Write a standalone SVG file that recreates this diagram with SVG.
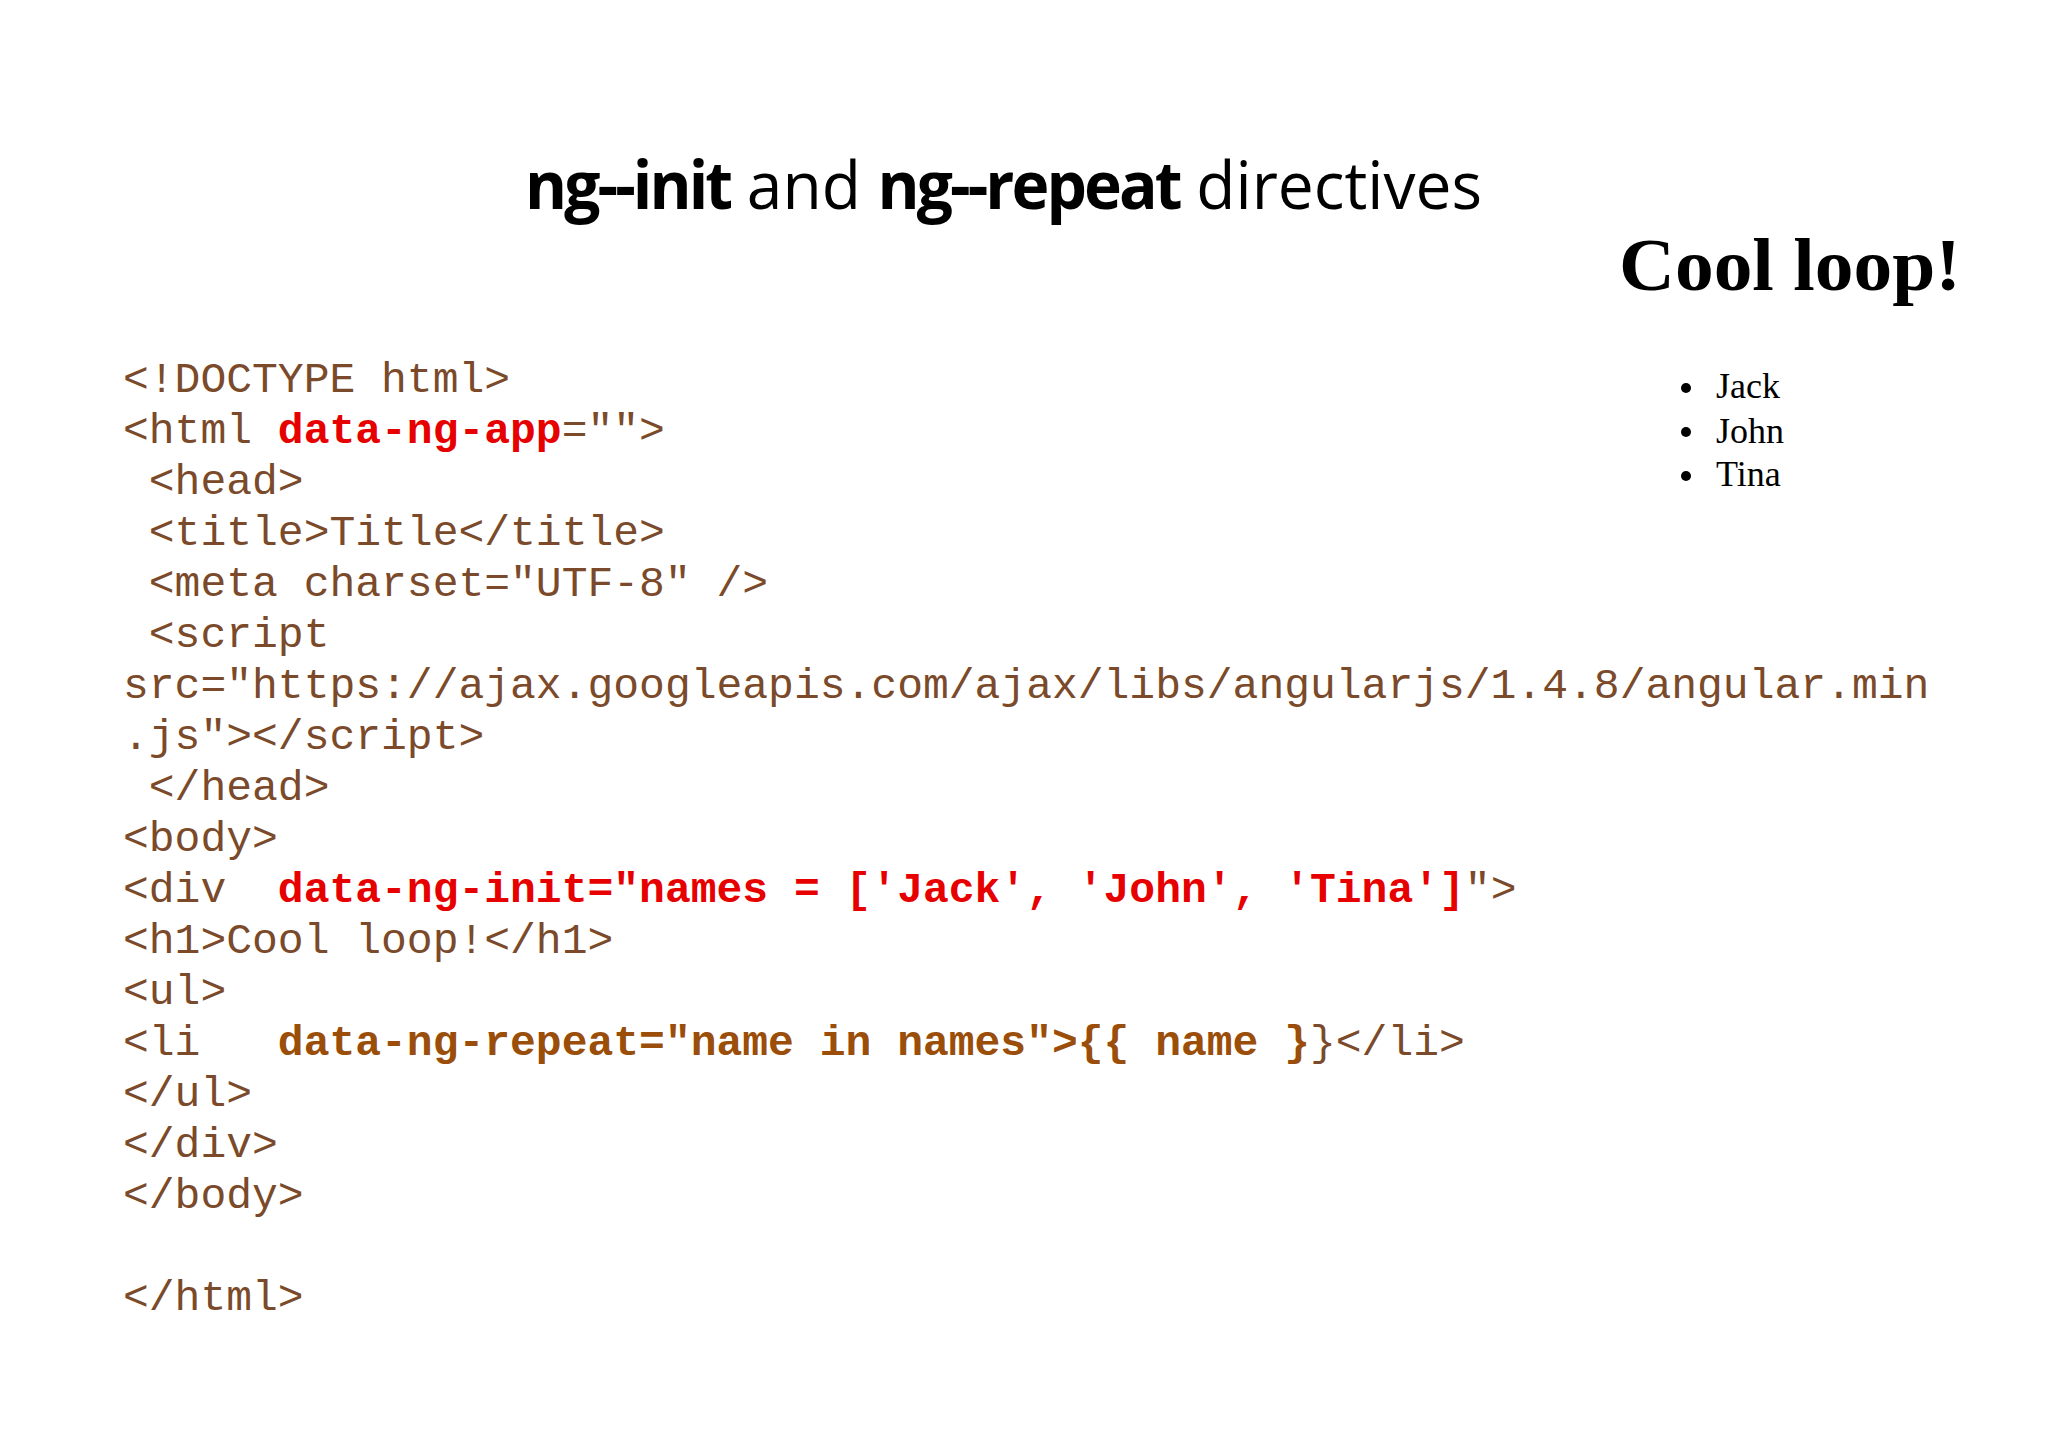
<svg xmlns="http://www.w3.org/2000/svg" width="2048" height="1447" viewBox="0 0 2048 1447">
<style>
.c{font-family:"Liberation Mono",monospace;font-size:43px;fill:#7a4a2a;white-space:pre}
.r{fill:#e60000;font-weight:bold}
.b{fill:#9a4e0a;font-weight:bold}
.t{font-family:"Open Sans","Liberation Sans",sans-serif;font-size:66px;fill:#000}
.s{font-family:"Liberation Serif",serif;fill:#000}
</style>
<rect width="2048" height="1447" fill="#fff"/>
<g id="title"><text class="t" x="525" y="209" textLength="957" lengthAdjust="spacingAndGlyphs"><tspan font-weight="bold" letter-spacing="-3">ng--init</tspan> and <tspan font-weight="bold" letter-spacing="-3">ng--repeat</tspan> directives</text></g>
<g id="output">
<text class="s" x="1619" y="290" font-size="73" font-weight="bold" textLength="342" lengthAdjust="spacingAndGlyphs">Cool loop!</text>
<g font-size="36">
<circle cx="1686" cy="388" r="5"/><circle cx="1686" cy="432" r="5"/><circle cx="1686" cy="476" r="5"/>
<text class="s" x="1716" y="398" font-size="36">Jack</text>
<text class="s" x="1716" y="443" font-size="36">John</text>
<text class="s" x="1716" y="486" font-size="36">Tina</text>
</g>
</g>
<g id="code" xml:space="preserve">
<text class="c" x="123" y="392">&lt;!DOCTYPE html&gt;</text>
<text class="c" x="123" y="443">&lt;html <tspan class="r">data-ng-app</tspan>=""&gt;</text>
<text class="c" x="123" y="494"> &lt;head&gt;</text>
<text class="c" x="123" y="545"> &lt;title&gt;Title&lt;/title&gt;</text>
<text class="c" x="123" y="596"> &lt;meta charset="UTF-8" /&gt;</text>
<text class="c" x="123" y="647"> &lt;script</text>
<text class="c" x="123" y="698">src="https://ajax.googleapis.com/ajax/libs/angularjs/1.4.8/angular.min</text>
<text class="c" x="123" y="749">.js"&gt;&lt;/script&gt;</text>
<text class="c" x="123" y="800"> &lt;/head&gt;</text>
<text class="c" x="123" y="851">&lt;body&gt;</text>
<text class="c" x="123" y="902">&lt;div  <tspan class="r">data-ng-init="names = ['Jack', 'John', 'Tina']</tspan>"&gt;</text>
<text class="c" x="123" y="953">&lt;h1&gt;Cool loop!&lt;/h1&gt;</text>
<text class="c" x="123" y="1004">&lt;ul&gt;</text>
<text class="c" x="123" y="1055">&lt;li   <tspan class="b">data-ng-repeat="name in names"&gt;{{ name }</tspan>}&lt;/li&gt;</text>
<text class="c" x="123" y="1106">&lt;/ul&gt;</text>
<text class="c" x="123" y="1157">&lt;/div&gt;</text>
<text class="c" x="123" y="1208">&lt;/body&gt;</text>
<text class="c" x="123" y="1310">&lt;/html&gt;</text>
</g>
</svg>
